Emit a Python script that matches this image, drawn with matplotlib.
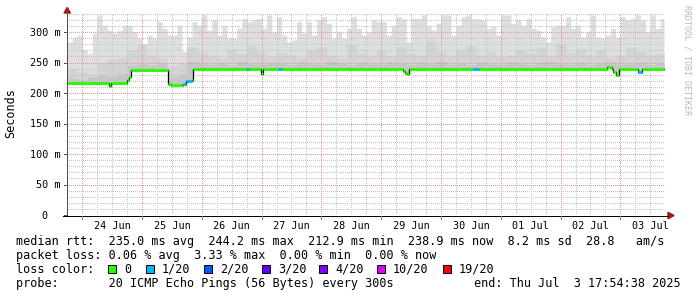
import numpy as np
import matplotlib
matplotlib.use("Agg")
import matplotlib.pyplot as plt
from matplotlib.patches import Rectangle, Polygon
from matplotlib.lines import Line2D
from matplotlib.transforms import blended_transform_factory, offset_copy

plt.rcParams["lines.scale_dashes"] = False

W, H = 697, 297
MONO = "DejaVu Sans Mono"

# ---------------- data ----------------
day_labels = ["24 Jun", "25 Jun", "26 Jun", "27 Jun", "28 Jun",
              "29 Jun", "30 Jun", "01 Jul", "02 Jul", "03 Jul"]
y_major = [0, 50, 100, 150, 200, 250, 300]

# time in hours relative to 24 Jun 00:00
t_start, t_end = -6.1, 233.9

# smoke (ms), lightest outer envelope, 2-hour bins starting 23 Jun 18:00
smoke_top_start, smoke_top_step = -6.0, 2.0
smoke_top = [284, 292, 295, 271, 265, 298, 328, 311, 303, 298,
             303, 311, 311, 300, 290, 268, 295, 290, 317, 306,
             295, 295, 311, 268, 292, 317, 311, 328, 303,
             320, 295, 311, 290, 290, 306, 322, 317, 320, 322,
             306, 328, 300, 325, 295, 284, 287, 317, 298, 317,
             295, 320, 325, 314, 290, 300, 290, 306, 325, 306,
             295, 300, 320, 317, 317, 295, 311, 325, 322, 284,
             322, 322, 328, 311, 303, 314, 328, 328, 295, 311,
             325, 328, 322, 322, 320, 306, 309, 295, 328, 328,
             314, 320, 311, 322, 306, 303, 292, 284, 309, 311,
             311, 325, 306, 311, 292, 300, 328, 292, 290, 295,
             306, 292, 325, 320, 322, 328, 320, 300, 328, 306, 322]

# inner smoke layers, 4-hour bins starting 23 Jun 18:00
smoke_in_start, smoke_in_step = -6.0, 4.0
smoke_mid = [240, 235, 232, 250, 255, 258, 270, 280, 262, 258,
             245, 250, 275, 268, 262, 258, 272, 265, 278, 268,
             260, 266, 262, 258, 270, 275, 262, 258, 280, 265,
             262, 270, 260, 275, 265, 262, 285, 268, 262, 270,
             278, 262, 268, 260, 262, 270, 265, 275, 262, 280,
             266, 272, 262, 270, 258, 262, 275, 268, 262, 265]
smoke_low = [224, 222, 226, 230, 228, 232, 245, 248, 246, 250,
             225, 230, 252,
             248, 247, 250, 246, 252, 248, 247, 250, 249, 246,
             251, 248, 247, 252, 249, 246, 250, 248, 247, 251,
             249, 246, 250, 248, 252, 247, 249, 246, 250, 248,
             247, 251, 249, 246, 250, 252, 248, 247, 250, 246,
             249, 251, 247, 248, 250, 246, 249]

# median rtt (ms) as steps: start hour, value, lost pings out of 20
median_t = [-6.1, 10.75, 11.56, 17.98, 18.78, 19.58, 34.43, 35.63, 40.45,
            41.65, 44.06, 44.46, 66.13, 66.94, 71.75, 72.55, 78.98, 80.18,
            128.74, 129.54, 130.34, 131.14, 156.83, 159.24, 210.61, 212.6,
            213.0, 214.2, 215.4, 223.07, 224.67]
median_ms = [216, 212, 216, 221, 226, 238, 214, 212.5, 214, 220, 221,
             239, 239, 239, 231, 239, 239, 239, 236, 233, 231, 239,
             239, 239, 243, 240, 235, 229.5, 239, 235, 239]
median_loss = [0, 0, 0, 0, 0, 0, 0, 0, 1, 1, 0, 0, 1, 0, 0, 0, 1, 0, 0, 0,
               0, 0, 1, 0, 0, 0, 0, 0, 0, 1, 0]
median_end = 233.5

loss_levels = [0, 1, 2, 3, 4, 10, 19]
loss_names = ["0", "1/20", "2/20", "3/20", "4/20", "10/20", "19/20"]
loss_colors = ["#26ff00", "#00b8ff", "#0059ff", "#5e00ff", "#7e00ff",
               "#dd00ff", "#ff0000"]

line_rtt = ("median rtt:  235.0 ms avg  244.2 ms max  212.9 ms min  "
            "238.9 ms now  8.2 ms sd  28.8   am/s")
line_loss = "packet loss: 0.06 % avg  3.33 % max  0.00 % min  0.00 % now"
line_probe = "probe:       20 ICMP Echo Pings (56 Bytes) every 300s"
line_end = "end: Thu Jul  3 17:54:38 2025"

# ---------------- figure ----------------
fig = plt.figure(figsize=(W / 100, H / 100), dpi=100)
fig.patch.set_facecolor("white")


def fx(x):
    return x / W


def fy(y):
    return 1 - y / H


ax = fig.add_axes([fx(67), fy(215), 598 / W, 202 / H])
ax.set_xlim(t_start, t_end)
ax.set_ylim(0, 202 / 0.61)
ax.set_axis_off()

mt = np.array(median_t)
mv = np.array(median_ms)


def median_at(t):
    idx = np.clip(np.searchsorted(mt, t, side="right") - 1, 0, len(mt) - 1)
    return mv[idx]


fine = np.arange(t_start, median_end + 0.05, 0.05)
lower = median_at(fine) - 2


def layer(vals, start, step, color, z):
    vals = np.array(vals, dtype=float)
    idx = np.clip(((fine - start) // step).astype(int), 0, len(vals) - 1)
    up = np.maximum(vals[idx], lower)
    ax.fill_between(fine, lower, up, step="post", color=color, lw=0,
                    zorder=z, antialiased=False)


layer(smoke_top, smoke_top_start, smoke_top_step, "#dedede", 1)
layer(smoke_mid, smoke_in_start, smoke_in_step, "#d3d3d3", 1.1)
layer(smoke_low, smoke_in_start, smoke_in_step, "#c6c6c6", 1.2)

# grid (dotted)
ytop = ax.get_ylim()[1]
dot = (0, (0.72, 1.44))
for v in range(10, int(ytop) + 1, 10):
    major = v % 50 == 0
    ax.axhline(v, color="#e89595" if major else "#c4c4c4", lw=0.72,
               ls=dot, zorder=2.5 if major else 2, antialiased=False)
for h in range(-6, int(t_end) + 1, 6):
    if h < t_start:
        continue
    major = h % 24 == 0
    ax.axvline(h, color="#e89595" if major else "#c4c4c4", lw=0.72,
               ls=dot, zorder=2.5 if major else 2, antialiased=False)

# median line: thin black step, then loss coloured segments
st = list(median_t) + [median_end]
sv = list(median_ms) + [median_ms[-1]]
ax.step(st, sv, where="post", color="black", lw=0.9, zorder=3)
for i in range(len(median_t)):
    c = loss_colors[loss_levels.index(median_loss[i])]
    ax.hlines(median_ms[i], st[i], st[i + 1], color=c, lw=2.0, zorder=4)

# axes lines and arrows (figure pixel coords)
def pline(x0, y0, x1, y1, color, lw=0.72):
    fig.add_artist(Line2D([fx(x0), fx(x1)], [fy(y0), fy(y1)], color=color,
                          lw=lw, transform=fig.transFigure,
                          antialiased=False))


pline(67, 215.5, 67, 10, "#505050")
pline(63, 215.5, 668, 215.5, "black")
fig.add_artist(Polygon([[fx(64), fy(13)], [fx(70.5), fy(13)], [fx(67.2), fy(7.5)]],
                       closed=True, color="#9a1c1c", transform=fig.transFigure))
fig.add_artist(Polygon([[fx(668), fy(212.3)], [fx(668), fy(218.8)], [fx(674), fy(215.5)]],
                       closed=True, color="#9a1c1c", transform=fig.transFigure))

# y ticks and labels
ty = blended_transform_factory(fig.transFigure, ax.transData)
ty_lab = offset_copy(ty, fig=fig, x=0, y=-3.6, units="dots")
for v in y_major:
    ax.add_line(Line2D([fx(64), fx(67)], [v, v], color="#505050", lw=0.72,
                       transform=ty, clip_on=False, antialiased=False))
    if v == 0:
        fig.text(fx(47), v, "0", transform=ty_lab, ha="right", va="baseline",
                 fontsize=7.3, family=MONO)
    else:
        fig.text(fx(60.5), v, f"{v} m", transform=ty_lab, ha="right",
                 va="baseline", fontsize=7.3, family=MONO)

# x ticks (major, small red) and labels
tx = blended_transform_factory(ax.transData, fig.transFigure)
for h in range(0, int(t_end) + 1, 24):
    fig.add_artist(Line2D([h, h], [fy(216), fy(218.5)],
                          color="#d06060", lw=0.72,
                          transform=tx, antialiased=False))
for k, lab in enumerate(day_labels):
    fig.text(12 + 24 * k, fy(228.6), lab, transform=tx, ha="center",
             va="baseline", fontsize=7.3, family=MONO)

# y axis title and watermark
fig.text(fx(11), fy(113), "Seconds", rotation=90, ha="center", va="center",
         fontsize=8.5, family=MONO)
fig.text(fx(687), fy(60), "RRDTOOL / TOBI OETIKER", rotation=270,
         ha="center", va="center", fontsize=6, family=MONO, color="#b8b8b8")

# legend text
fig.text(fx(16), fy(245), line_rtt, ha="left", va="baseline", fontsize=8.5,
         family=MONO)
fig.text(fx(16), fy(259), line_loss, ha="left", va="baseline", fontsize=8.5,
         family=MONO)
fig.text(fx(16), fy(273), "loss color:", ha="left", va="baseline",
         fontsize=8.5, family=MONO)
box_x = [108, 146, 204, 262, 319, 377, 443]
for bx, name, col in zip(box_x, loss_names, loss_colors):
    fig.add_artist(Rectangle((fx(bx), fy(273)), 8 / W, 8 / H, facecolor=col,
                             edgecolor="black", lw=0.7,
                             transform=fig.transFigure))
    fig.text(fx(bx + 16), fy(273), name, ha="left", va="baseline",
             fontsize=8.5, family=MONO)
fig.text(fx(16), fy(287), line_probe, ha="left", va="baseline", fontsize=8.5,
         family=MONO)
fig.text(fx(681), fy(287), line_end, ha="right", va="baseline", fontsize=8.5,
         family=MONO)

fig.savefig("out.png", dpi=100, facecolor="white")
